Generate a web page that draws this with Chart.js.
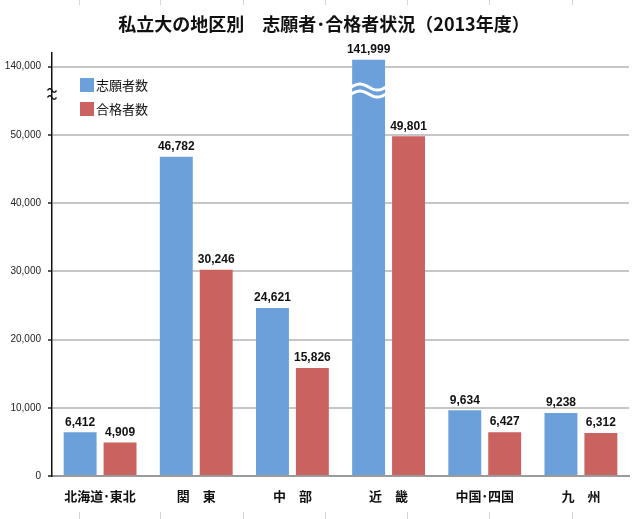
<!DOCTYPE html>
<html>
<head>
<meta charset="utf-8">
<script src="https://cdn.jsdelivr.net/npm/chart.js@4.4.1/dist/chart.umd.min.js"></script>
<style>
html,body{margin:0;padding:0;background:#fff;}
#wrap{width:640px;height:519px;position:relative;}
</style>
</head>
<body>
<div id="wrap"><canvas id="c" width="640" height="519"></canvas></div>
<script>
// ---- data ----
const titleText = '私立大の地区別　志願者･合格者状況（2013年度）';
const categories = ['北海道･東北', '関　東', '中　部', '近　畿', '中国･四国', '九　州'];
const seriesNames = ['志願者数', '合格者数'];
const applicants = [6412, 46782, 24621, 141999, 9634, 9238];
const passers = [4909, 30246, 15826, 49801, 6427, 6312];
const yTickValues = [0, 10000, 20000, 30000, 40000, 50000, 60000];
const yTickLabels = ['0', '10,000', '20,000', '30,000', '40,000', '50,000', '140,000'];

// broken axis: values >= 140,000 are drawn above the break (140,000 sits at 60,000 position)
const BREAK_REAL = 140000, BREAK_POS = 60000, ABOVE_SCALE = 0.5;
function plotVal(v) { return v >= BREAK_REAL ? BREAK_POS + (v - BREAK_REAL) * ABOVE_SCALE : v; }
function fmt(v) { return v.toLocaleString('en-US'); }

const colors = ['#6ba0da', '#ca625f'];
const realValues = [applicants, passers];

const jp = '"Noto Sans CJK JP", "Noto Sans", sans-serif';
const num = '"Liberation Sans", Arial, sans-serif';

const decoPlugin = {
  id: 'deco',
  afterDatasetsDraw(chart) {
    const ctx = chart.ctx;
    const y = chart.scales.y;
    chart.data.datasets.forEach((ds, di) => {
      const meta = chart.getDatasetMeta(di);
      meta.data.forEach((bar, i) => {
        const real = realValues[di][i];
        if (real >= BREAK_REAL) {
          const yc = y.getPixelForValue(56500);
          const half = bar.width / 2 + 1;
          ctx.save();
          ctx.strokeStyle = '#ffffff';
          ctx.lineWidth = 3;
          [-3.5, 3.5].forEach(off => {
            ctx.beginPath();
            for (let t = 0; t <= 40; t++) {
              const px = bar.x - half + (2 * half) * t / 40;
              const py = yc + off - 3 * Math.sin(Math.PI * 2 * t / 40);
              if (t === 0) ctx.moveTo(px, py); else ctx.lineTo(px, py);
            }
            ctx.stroke();
          });
          ctx.restore();
        }
        ctx.save();
        ctx.font = 'bold 12px ' + num;
        ctx.fillStyle = '#111';
        ctx.textAlign = 'center';
        ctx.textBaseline = 'bottom';
        ctx.fillText(fmt(real), bar.x, bar.y - 4);
        ctx.restore();
      });
    });
  },
  afterDraw(chart) {
    const ctx = chart.ctx;
    const ca = chart.chartArea;
    const y = chart.scales.y;
    // faint sheet-cell marks at the picture edges
    ctx.save();
    ctx.strokeStyle = '#d4d4d4';
    ctx.lineWidth = 1;
    [79, 160, 243, 325, 407, 489, 572].forEach(x => {
      ctx.beginPath(); ctx.moveTo(x + 0.5, 0); ctx.lineTo(x + 0.5, 5); ctx.stroke();
      ctx.beginPath(); ctx.moveTo(x + 0.5, 512); ctx.lineTo(x + 0.5, 519); ctx.stroke();
    });
    ctx.restore();
    // title
    ctx.save();
    ctx.font = 'bold 18px ' + jp;
    ctx.fillStyle = '#111';
    ctx.textAlign = 'center';
    ctx.textBaseline = 'middle';
    ctx.fillText(titleText, 324, 24);
    ctx.restore();
    // axis break marks
    const yb = y.getPixelForValue(56000);
    ctx.save();
    ctx.strokeStyle = '#111';
    ctx.lineWidth = 1.4;
    [-3.5, 3.5].forEach(off => {
      ctx.beginPath();
      for (let t = 0; t <= 20; t++) {
        const px = ca.left - 4.5 + 9 * t / 20;
        const py = yb + off - 1.8 * Math.sin(Math.PI * 2 * t / 20);
        if (t === 0) ctx.moveTo(px, py); else ctx.lineTo(px, py);
      }
      ctx.stroke();
    });
    ctx.restore();
    // legend
    ctx.save();
    seriesNames.forEach((n, i) => {
      const ly = 78 + i * 24;
      ctx.fillStyle = colors[i];
      ctx.fillRect(80, ly, 14, 14);
      ctx.fillStyle = '#111';
      ctx.font = '13px ' + jp;
      ctx.textAlign = 'left';
      ctx.textBaseline = 'middle';
      ctx.fillText(n, 96, ly + 7);
    });
    ctx.restore();
  }
};

new Chart(document.getElementById('c'), {
  type: 'bar',
  data: {
    labels: categories,
    datasets: seriesNames.map((n, i) => ({
      label: n,
      data: realValues[i].map(plotVal),
      backgroundColor: colors[i],
      borderWidth: 0,
      categoryPercentage: 0.83,
      barPercentage: 0.825
    }))
  },
  options: {
    responsive: false,
    animation: false,
    devicePixelRatio: 1,
    layout: { padding: { top: 53, right: 11, left: 0, bottom: 0 } },
    plugins: { legend: { display: false }, tooltip: { enabled: false }, title: { display: false } },
    scales: {
      x: {
        grid: { display: false, drawTicks: false },
        border: { display: true, color: '#9a9a9a', width: 2 },
        ticks: { padding: 12, color: '#111', font: { family: jp, size: 13, weight: 'bold' }, maxRotation: 0, autoSkip: false },
        afterFit(s) { s.height = 43; }
      },
      y: {
        min: 0,
        max: 62000,
        afterBuildTicks(s) { s.ticks = yTickValues.map(v => ({ value: v })); },
        ticks: {
          padding: 7,
          color: '#222',
          font: { family: num, size: 10 },
          callback(v) { const k = yTickValues.indexOf(v); return k >= 0 ? yTickLabels[k] : ''; }
        },
        grid: { color: '#c6c6c6', lineWidth: 2, tickColor: '#222', tickWidth: 1.5, tickLength: 4 },
        border: { display: true, color: '#111', width: 1.5 },
        afterFit(s) { s.width = 52; }
      }
    }
  },
  plugins: [decoPlugin]
});
</script>
</body>
</html>
